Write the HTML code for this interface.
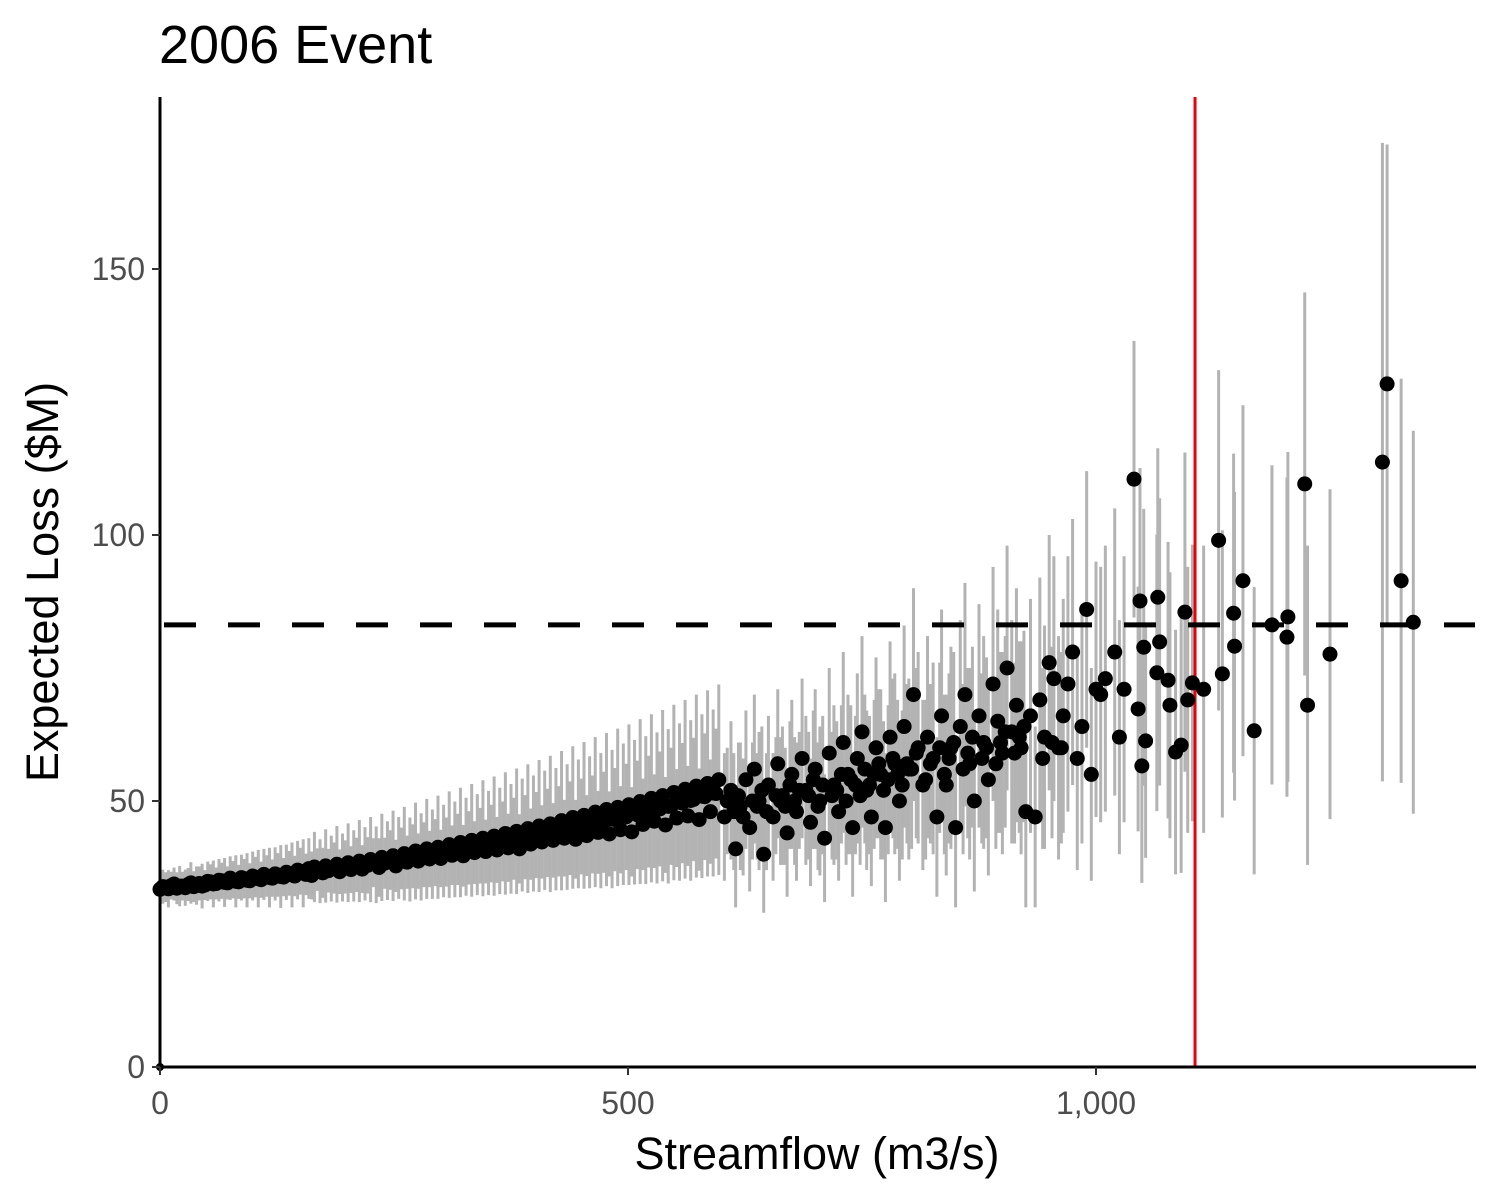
<!DOCTYPE html>
<html><head><meta charset="utf-8"><style>
html,body{margin:0;padding:0;background:#fff;}
svg{display:block;font-family:"Liberation Sans",Arial,sans-serif;}
</style></head><body>
<svg id="chart" width="1500" height="1200" viewBox="0 0 1500 1200" xmlns="http://www.w3.org/2000/svg">
<rect width="1500" height="1200" fill="#fff"/>
<text x="159" y="63" font-size="54" fill="#000">2006 Event</text>
<g id="bars"></g>
<g id="refs"></g>
<g id="pts"></g>
<g id="axes"></g>
<text x="817" y="1169" font-size="45" text-anchor="middle" fill="#000">Streamflow (m3/s)</text>
<text transform="translate(58,582) rotate(-90)" font-size="45" text-anchor="middle" fill="#000">Expected Loss ($M)</text>
</svg>
<script>
const xTicks=[0,500,1000];
const xTickLabels=["0","500","1,000"];
const yTicks=[0,50,100,150];
const yTickLabels=["0","50","100","150"];
const redLineFlow=1105.8;
const thresholdLoss=83.1;
const denseLoss=[33.4,33.8,34.1,33.6,34.0,34.3,33.9,34.5,34.2,34.8,34.5,35.0,34.6,35.2,34.8,35.4,35.0,35.7,35.2,35.9,35.5,36.1,35.7,36.4,35.9,36.8,36.2,36.0,37.1,36.5,36.9,37.4,36.7,37.6,37.1,38.0,37.2,37.9,38.4,37.5,38.3,38.9,37.8,39.2,38.5,39.6,38.7,39.9,39.1,40.3,39.2,40.4,39.8,40.9,39.7,41.2,40.3,41.6,40.5,42.0,40.8,42.4,41.2,42.9,41.0,43.2,41.9,43.6,42.3,44.0,42.6,44.3,43.0,44.9,42.8,45.2,43.5,45.6,44.1,46.0,43.8,46.5,44.6,47.0,44.2,47.4,45.6,48.0,46.2,48.5,45.5,49.0,46.8,49.6,47.2,50.3,46.5,50.8,48.0,51.4];
const denseErr=[2.5,2.8,2.6,3.0,2.7,3.1,2.9,3.2,2.8,3.3,3.0,3.4,3.1,3.5,3.2,3.7,3.3,3.8,3.4,3.9,3.5,4.1,3.6,4.2,3.8,4.4,3.9,4.5,4.0,4.7,4.1,4.8,4.2,5.0,4.4,5.1,4.5,5.3,4.6,5.5,4.8,5.6,4.9,5.8,5.0,6.0,5.2,6.1,5.3,6.3,5.4,6.5,5.6,6.7,5.8,6.9,5.9,7.1,6.0,7.3,6.2,7.5,6.4,7.7,6.5,7.9,6.7,8.1,6.9,8.3,7.0,8.5,7.2,8.8,7.4,9.0,7.6,9.2,7.8,9.5,8.0,9.7,8.2,10.0,8.4,10.2,8.6,10.5,8.8,10.8,9.0,11.0,9.2,11.3,9.4,11.6,9.6,11.9,9.8,12.2];
const denseLoss2=[33.9,33.5,34.4,34.0,33.7,34.6,34.1,34.0,34.9,34.4,35.1,34.7,35.5,34.9,35.6,35.1,35.9,35.4,36.2,35.6,36.3,35.8,36.6,36.1,37.0,36.4,37.3,37.6,36.8,37.8,37.3,38.1,37.5,38.4,37.8,38.7,38.2,39.0,38.0,39.4,38.8,39.7,39.3,40.1,39.0,40.6,39.5,41.0,40.0,41.3,40.6,41.8,40.9,42.2,41.4,42.6,41.8,43.0,42.1,43.4,42.5,43.9,42.9,44.3,43.6,44.8,43.9,45.3,44.5,45.7,44.7,46.3,45.1,46.9,45.7,47.3,46.0,47.9,46.3,48.4,46.6,48.8,47.5,49.3,47.9,49.9,48.3,50.5,48.7,51.0,49.0,51.6,49.8,52.2,50.1,52.8,50.9,53.3,51.5,54.0];
const denseErr2=[3.2,3.5,3.1,3.8,3.4,3.9,3.6,4.2,3.7,4.4,4.0,4.6,4.1,4.9,4.3,5.1,4.6,5.4,4.8,5.6,5.0,5.9,5.2,6.1,5.5,6.4,5.7,6.6,6.0,6.9,6.2,7.2,6.4,7.4,6.7,7.7,6.9,8.0,7.2,8.2,7.4,8.5,7.7,8.8,7.9,9.1,8.2,9.4,8.4,9.7,8.7,10.0,9.0,10.3,9.2,10.6,9.5,10.9,9.8,11.2,10.0,11.5,10.3,11.8,10.6,12.1,10.9,12.4,11.2,12.8,11.5,13.1,11.8,13.4,12.1,13.8,12.4,14.1,12.7,14.4,13.0,14.8,13.3,15.1,13.6,15.5,13.9,15.8,14.2,16.1,14.5,16.5,14.8,16.8,15.1,17.2,15.4,17.5,15.7,17.9];
const sparseFlow=[603,610,615,620,626,630,635,640,645,650,655,660,665,670,675,680,686,690,695,700,705,710,715,720,725,730,735,740,745,750,755,760,765,770,775,780,785,790,795,800,805,810,815,820,826,830,835,840,845,850,855,860,865,870,875,880,885,890,895,900,905,910,915,920,925,930,935,940,945,950,955,960,965,970,975,980,985,990,995,1000,1005,1010,1020,1025,1030,1040.6,1047,1045,1051,1053,1049,1066,1068,1065,1077,1079,1085,1091,1095,1098,1103,1115,1131,1135,1147,1148,1157,1169,1188,1205,1204,1223,1226,1250,1306,1311,1326,1339,0,606,613,618,623,633,638,643,648,658,663,668,673,678,683,693,698,703,708,718,723,728,733,738,743,748,753,758,763,768,773,778,783,788,793,798,803,808,818,823,833,838,843,848,858,863,868,878,883,893,898,903,913,918,923,943,953,963];
const sparseLoss=[47,52,41,49,54,45,56,50,40,53,47,57,51,44,55,48,58,52,46,56,50,43,59,53,48,61,55,45,58,63,52,47,60,55,45,62,57,50,64,56,70,60,53,62,58,47,66,53,60,45,64,70,57,50,66,61,54,72,65,59,75,63,68,60,48,66,47,69,62,76,73,60,66,72,78,58,64,86,55,71,70,73,78,62,71,110.5,87.6,67.3,78.9,61.3,56.6,88.3,79.9,74.1,72.7,68,59.2,60.5,85.5,69,72.2,71,99,73.9,85.3,79.1,91.4,63.2,83.1,84.6,80.8,109.6,68,77.6,113.7,128.4,91.4,83.6,0,50,48,51,47,50,49,52,48,51,50,49,53,50,52,51,54,49,53,51,52,55,50,54,53,51,56,53,55,57,52,54,58,55,53,57,56,59,54,57,60,55,58,61,56,59,62,58,60,57,61,63,59,62,64,58,61,60];
const sparseErr=[12,13,11,12,13,12,14,13,11,13,12,14,13,12,14,13,15,14,12,15,14,12,16,15,13,17,15,13,16,18,15,13,17,16,14,18,17,15,19,17,20,18,16,19,18,15,20,17,19,15,20,21,18,17,21,20,18,22,21,19,23,21,22,20,18,22,17,23,21,24,23,21,22,24,25,21,22,26,20,24,24,25,27,22,25,26,25,23,26,22,22,28,27,26,26,25,23,24,30,25,26,27,32,27,30,29,33,27,30,31,30,36,30,31,60,45,38,36,0,10,11,10,11,11,10,12,11,11,12,11,12,12,11,12,13,12,13,12,13,13,12,14,13,13,14,13,14,14,13,14,15,14,14,15,15,16,15,15,16,15,16,17,16,16,17,16,17,16,17,18,17,18,18,17,18,18];
const X=v=>160+v*0.936, Y=v=>1067-v*5.32;
const NS="http://www.w3.org/2000/svg";
function mk(tag,attrs,parent){const e=document.createElementNS(NS,tag);for(const k in attrs)e.setAttribute(k,attrs[k]);parent.appendChild(e);return e;}
const bars=document.getElementById('bars'),pts=document.getElementById('pts'),axes=document.getElementById('axes'),refs=document.getElementById('refs');
const F=[],L=[],E=[];
denseLoss.forEach((v,i)=>{F.push(i*6);L.push(v);E.push(denseErr[i]);});
denseLoss2.forEach((v,i)=>{F.push(i*6+3);L.push(v);E.push(denseErr2[i]);});
sparseFlow.forEach((v,i)=>{F.push(v);L.push(sparseLoss[i]);E.push(sparseErr[i]);});
F.forEach((f,i)=>{
 const b=mk('line',{x1:X(f),x2:X(f),y1:Y(L[i]-E[i]),y2:Y(L[i]+E[i]),stroke:'#b3b3b3','stroke-width':3},bars);
 
 
});
const rl=mk('line',{x1:X(redLineFlow),x2:X(redLineFlow),y1:97,y2:1067,stroke:'#e8000b','stroke-width':3},refs);


const dl=mk('line',{x1:160,x2:1475,y1:Y(thresholdLoss),y2:Y(thresholdLoss),stroke:'#000','stroke-width':5,'stroke-dasharray':'32 32','stroke-dashoffset':'-4'},refs);


F.forEach((f,i)=>{
 const c=mk('circle',{cx:X(f),cy:Y(L[i]),r:L[i]===0?4:7.5,fill:'#000'},pts);
 
 
});
const ya=mk('line',{x1:160,x2:160,y1:97,y2:1068,stroke:'#000','stroke-width':3},axes);


const xa=mk('line',{x1:159,x2:1476,y1:1067,y2:1067,stroke:'#000','stroke-width':3},axes);


yTicks.forEach((t,i)=>{
 const tk=mk('line',{x1:152,x2:160,y1:Y(t),y2:Y(t),stroke:'#333','stroke-width':2},axes);
 
 
 const tx=mk('text',{x:145,y:Y(t)+11,'font-size':32,'text-anchor':'end',fill:'#4d4d4d'},axes);
 tx.textContent=yTickLabels[i];
 
 
});
xTicks.forEach((t,i)=>{
 const tk=mk('line',{x1:X(t),x2:X(t),y1:1067,y2:1075,stroke:'#333','stroke-width':2},axes);
 
 
 const tx=mk('text',{x:X(t),y:1114,'font-size':32,'text-anchor':'middle',fill:'#4d4d4d'},axes);
 tx.textContent=xTickLabels[i];
 
 
});
</script>
</body></html>
